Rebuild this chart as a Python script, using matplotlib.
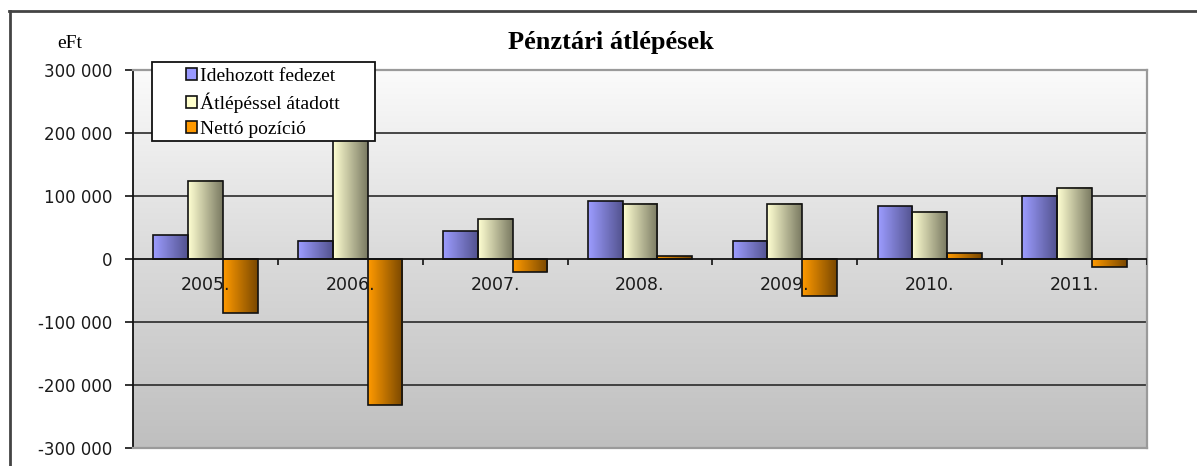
import matplotlib
matplotlib.use('Agg')
import matplotlib.pyplot as plt
import numpy as np
from matplotlib.colors import LinearSegmentedColormap
from matplotlib.lines import Line2D
from matplotlib.patches import Rectangle

# ---- data ----
years = ['2005.', '2006.', '2007.', '2008.', '2009.', '2010.', '2011.']
idehozott = [38000, 29000, 44000, 92000, 29000, 84000, 100000]
atlepessel = [124000, 260000, 64000, 88000, 88000, 75000, 113000]
netto = [-86000, -231000, -20000, 4000, -59000, 9000, -13000]
series_names = ['Idehozott fedezet', 'Átlépéssel átadott', 'Nettó pozíció']
yticks = [-300000, -200000, -100000, 0, 100000, 200000, 300000]
title = 'Pénztári átlépések'
unit = 'eFt'

# ---- styles ----
grad_colors = [('#9c9cff', '#53538f'), ('#ffffd2', '#7a7a62'), ('#ff9a00', '#7a4800')]
legend_colors = ['#9999ff', '#ffffcc', '#ff9900']
SERIF = 'Liberation Serif'
SANS = 'DejaVu Sans'

W, H = 1197, 466
fig = plt.figure(figsize=(W / 100, H / 100), dpi=100)
fig.patch.set_facecolor('white')

L, R, T, B = 133, 1147, 70, 448
ax = fig.add_axes([L / W, 1 - B / H, (R - L) / W, (B - T) / H])

n = len(years)
x = np.arange(n)
w = 0.24

# background gradient
bg = LinearSegmentedColormap.from_list('bg', ['#bfbfbf', '#dadada', '#fbfbfb'])
ax.imshow(np.linspace(0, 1, 256).reshape(-1, 1), cmap=bg, aspect='auto',
          extent=[-0.5, n - 0.5, yticks[0], yticks[-1]], origin='lower', zorder=0)

# gridlines
for yt in yticks[1:-1]:
    if yt != 0:
        ax.axhline(yt, color='#2a2a2a', lw=1.2, zorder=1)

series = [idehozott, atlepessel, netto]
for i, vals in enumerate(series):
    cmap = LinearSegmentedColormap.from_list('g%d' % i, list(grad_colors[i]))
    bars = ax.bar(x + (i - 1) * w, vals, w, facecolor='none', edgecolor='#111111',
                  linewidth=1.2, zorder=4)
    for b in bars:
        x0 = b.get_x()
        y0 = b.get_y()
        h = b.get_height()
        ax.imshow(np.linspace(0, 1, 64).reshape(1, -1), cmap=cmap, aspect='auto',
                  extent=[x0, x0 + b.get_width(), min(y0, y0 + h), max(y0, y0 + h)],
                  zorder=3, interpolation='bilinear')

ax.set_xlim(-0.5, n - 0.5)
ax.set_ylim(yticks[0], yticks[-1])

# zero axis line + category tick marks
ax.axhline(0, color='#111111', lw=1.3, zorder=5)
ax.vlines(np.arange(0.5, n - 0.5 + 0.01, 1.0), -9000, 0, color='#111111', lw=1.2, zorder=5)

for xi, lab in zip(x, years):
    ax.text(xi, -42000, lab, ha='center', va='center', fontsize=12.5,
            family=SANS, color='#1a1a1a', zorder=6)

ax.set_xticks([])
ax.set_yticks(yticks)
ax.set_yticklabels([('%d' % v) if v == 0 else
                    ('-' if v < 0 else '') + '{:,}'.format(abs(v)).replace(',', ' ')
                    for v in yticks], family=SANS, fontsize=12, color='#1a1a1a')
ax.tick_params(axis='y', direction='out', length=6, width=1.2, pad=9, color='#111111')

for s in ['top', 'right', 'bottom']:
    ax.spines[s].set_color('#9a9a9a')
    ax.spines[s].set_linewidth(1.6)
ax.spines['left'].set_color('#111111')
ax.spines['left'].set_linewidth(1.3)

# title and unit
fig.text(611 / W, 1 - 42 / H, title, ha='center', va='center', fontsize=19,
         fontweight='bold', family=SERIF)
fig.text(70 / W, 1 - 44 / H, unit, ha='center', va='center', fontsize=14, family=SERIF)

# outer border (top and left)
fig.add_artist(Line2D([9 / W, 1.0], [1 - 10.5 / H] * 2, transform=fig.transFigure,
                      color='#444444', lw=2))
fig.add_artist(Line2D([9.5 / W] * 2, [1 - 10.5 / H, 0], transform=fig.transFigure,
                      color='#444444', lw=2))

# legend box
box = Rectangle((152 / W, 1 - 141 / H), (375 - 152) / W, (141 - 62) / H,
                transform=fig.transFigure, facecolor='white', edgecolor='#111111',
                lw=1.3, zorder=9)
fig.add_artist(box)
handles = [Rectangle((0, 0), 1, 1, facecolor=c, edgecolor='#111111', lw=1.2)
           for c in legend_colors]
leg = fig.legend(handles, series_names, loc='upper left',
                 bbox_to_anchor=(183 / W, 1 - 65 / H), bbox_transform=fig.transFigure,
                 borderaxespad=0, frameon=False,
                 prop={'family': SERIF, 'size': 14}, handlelength=0.55, handleheight=0.55,
                 handletextpad=0.2, labelspacing=0.4, borderpad=0.15)
leg.set_zorder(10)

fig.savefig('out.png', dpi=100, facecolor='white')
